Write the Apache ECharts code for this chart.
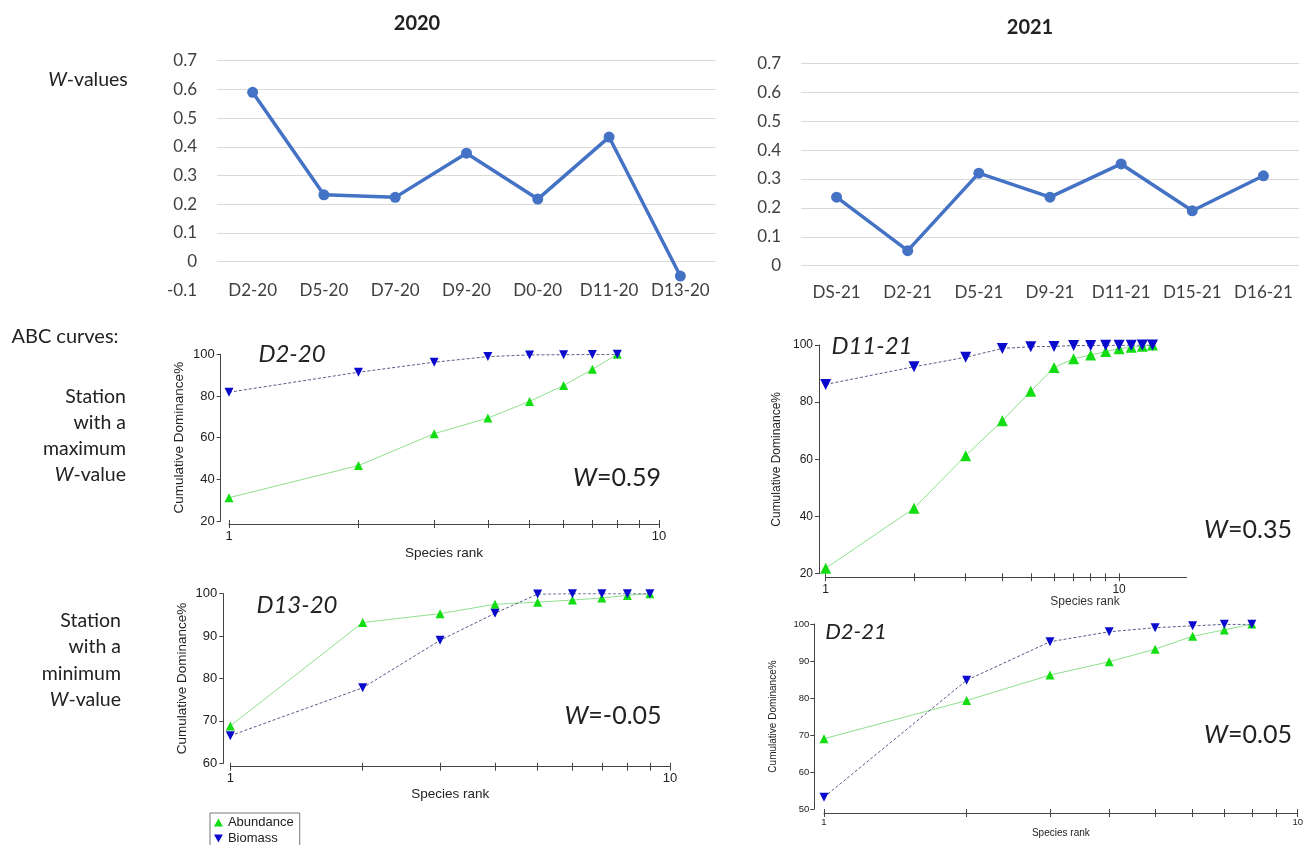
<!DOCTYPE html>
<html><head><meta charset="utf-8">
<script src="https://cdn.jsdelivr.net/npm/echarts@6/dist/echarts.min.js"></script>
<style>html,body{margin:0;padding:0;background:#fff}#c{width:1306px;height:845px}</style>
</head><body><div id="c"></div>
<script>
// ---- data ----
const cats2020 = ['D2-20','D5-20','D7-20','D9-20','D0-20','D11-20','D13-20'];
const w2020 = [0.59, 0.233, 0.224, 0.378, 0.218, 0.434, -0.05];
const cats2021 = ['DS-21','D2-21','D5-21','D9-21','D11-21','D15-21','D16-21'];
const w2021 = [0.237, 0.052, 0.32, 0.237, 0.352, 0.19, 0.311];

const rankTicks = [1,2,3,4,5,6,7,8,9,10];
const rankLabels = [1,10];

const abD2_20  = [31.2, 46.6, 61.9, 69.4, 77.4, 85.0, 92.8, 100];
const bioD2_20 = [81.8, 91.4, 96.2, 98.9, 99.7, 99.8, 99.9, 100];
const abD13_20  = [68.8, 93.2, 95.3, 97.5, 98.0, 98.5, 99.0, 99.6, 100];
const bioD13_20 = [66.5, 77.8, 89.0, 95.4, 99.9, 100, 100, 100, 100];
const abD11_21  = [21.9, 42.9, 61.3, 73.5, 83.8, 92.1, 95.2, 96.5, 97.7, 98.7, 99.2, 99.6, 100];
const bioD11_21 = [86.2, 92.4, 95.7, 98.8, 99.4, 99.5, 99.8, 99.8, 99.9, 99.9, 99.9, 100, 100];
const abD2_21  = [69.0, 79.3, 86.2, 89.8, 93.2, 96.7, 98.4, 100];
const bioD2_21 = [53.2, 84.8, 95.2, 97.9, 99.0, 99.5, 99.9, 99.9];

// ---- styles ----
const FC = 'Lato, "Open Sans", sans-serif';
const FA = '"Liberation Sans", Arial, sans-serif';
const TXT = '#222';
const BLUE = '#4472C4';

function label(text, x, y, size, opts) {
  opts = opts || {};
  const base = {fontFamily: FC, fontSize: size, color: opts.color || TXT, fontWeight: opts.bold ? 'bold' : 'normal',
    fontStyle: opts.italic ? 'italic' : 'normal', lineHeight: opts.lh || Math.round(size*1.25)};
  return {text: text, left: x, top: y, padding: 0, itemGap: 0,
    textAlign: opts.align || 'center', textVerticalAlign: 'middle',
    textStyle: Object.assign({}, base, {rich: {
      i: Object.assign({}, base, {fontStyle: 'italic'}),
      n: Object.assign({}, base)
    }})};
}

const titles = [
  label('2020', 417, 24, 20, {bold: true}),
  label('2021', 1030, 28, 20, {bold: true}),
  label('{i|W}-values', 88, 80, 19.5),
  label('ABC curves:', 65, 337, 20),
  label('Station\nwith a\nmaximum\n{i|W}-value', 126, 436, 19.5, {align: 'right', lh: 26}),
  label('Station\nwith a\nminimum\n{i|W}-value', 121, 660, 19.5, {align: 'right', lh: 26.5}),
  label('D2-20', 292, 354, 24, {italic: true}),
  label('{i|W}=0.59', 617, 478, 25),
  label('D13-20', 297, 605, 24, {italic: true}),
  label('{i|W}=-0.05', 613, 716, 25),
  label('D11-21', 872, 346, 24, {italic: true}),
  label('{i|W}=0.35', 1248, 530, 25),
  label('D2-21', 856, 632, 22, {italic: true}),
  label('{i|W}=0.05', 1248, 735, 25),
  {text: 'Species rank', left: 1085, top: 602, padding: 0, textAlign: 'center', textVerticalAlign: 'middle',
   textStyle: {fontFamily: FA, fontSize: 12, color: '#333', fontWeight: 'normal'}}
];

const grids = [];
const xAxes = [];
const yAxes = [];
const series = [];

// ---- W-value charts ----
function wChart(cats, vals, g, ymin, labelMargin, hideFirstGrid) {
  const gi = grids.length;
  grids.push(g);
  xAxes.push({type: 'category', gridIndex: gi, position: 'bottom', data: cats, boundaryGap: true,
    axisLine: {show: false}, axisTick: {show: false}, splitLine: {show: false},
    axisLabel: {fontFamily: FC, fontSize: 17, color: '#404040', margin: labelMargin, verticalAlign: 'middle', interval: 0}});
  const n = Math.round((0.7 - ymin) / 0.1) + 1;
  const cols = [];
  for (let k = 0; k < n; k++) cols.push(k === 0 && hideFirstGrid ? 'rgba(0,0,0,0)' : '#d9d9d9');
  yAxes.push({type: 'value', gridIndex: gi, min: ymin, max: 0.7, interval: 0.1,
    axisLine: {show: false}, axisTick: {show: false},
    splitLine: {show: true, lineStyle: {color: cols, width: 1}},
    axisLabel: {fontFamily: FC, fontSize: 17, color: '#404040', margin: 20}});
  series.push({type: 'line', xAxisIndex: gi, yAxisIndex: gi, data: vals,
    symbol: 'circle', symbolSize: 11, lineStyle: {color: BLUE, width: 3.5},
    itemStyle: {color: BLUE}, silent: true, animation: false});
}
wChart(cats2020, w2020, {left: 217, top: 60.7, width: 499, height: 229.7}, -0.1, 0, true);
wChart(cats2021, w2021, {left: 801, top: 63.3, width: 498, height: 202.4}, 0, 27, false);

// ---- ABC charts ----
const abcIdx = [];
function abcChart(c) {
  const gi = grids.length;
  grids.push(c.grid);
  const axCol = '#444';
  xAxes.push({type: 'log', logBase: 10, gridIndex: gi, position: 'bottom', min: 1, max: c.xmax, offset: c.xoff,
    axisLine: {show: true, lineStyle: {color: axCol, width: 1}},
    axisTick: {show: true, length: 4, customValues: rankTicks, lineStyle: {color: axCol}},
    axisLabel: {show: true, customValues: rankLabels, fontFamily: FA, fontSize: c.fs, color: '#222', margin: c.xlm},
    splitLine: {show: false}, minorTick: {show: false},
    name: c.xname ? 'Species rank' : '', nameLocation: 'middle', nameGap: c.xng,
    nameTextStyle: {fontFamily: FA, fontSize: c.nfs, color: '#222', verticalAlign: 'top'}});
  yAxes.push({type: 'value', gridIndex: gi, position: 'left', min: c.ymin, max: 100, interval: c.yint, offset: c.yoff,
    axisLine: {show: true, lineStyle: {color: axCol, width: 1}},
    axisTick: {show: true, length: 4, lineStyle: {color: axCol}},
    axisLabel: {fontFamily: FA, fontSize: c.fs, color: '#222', margin: c.ylm},
    splitLine: {show: false},
    name: 'Cumulative Dominance%', nameLocation: 'middle', nameGap: c.yng,
    nameTextStyle: {fontFamily: FA, fontSize: c.nfs, color: '#222'}});
  abcIdx.push({gi: gi, c: c});
  const ranks = c.ab.map((v, i) => i + 1);
  series.push({name: 'Abundance', type: 'line', xAxisIndex: gi, yAxisIndex: gi,
    data: c.ab.map((v, i) => [ranks[i], v]), symbol: 'triangle', symbolSize: c.ss,
    lineStyle: {color: '#8ee08e', width: 1}, itemStyle: {color: '#11dd11'}, silent: true, animation: false});
  series.push({name: 'Biomass', type: 'line', xAxisIndex: gi, yAxisIndex: gi,
    data: c.bio.map((v, i) => [ranks[i], v]), symbol: 'triangle', symbolRotate: 180, symbolSize: c.ss,
    lineStyle: {color: '#5a5a8c', width: 1, type: [3, 2]}, itemStyle: {color: '#0a0acc'}, silent: true, animation: false});
}
abcChart({grid: {left: 229, top: 354.3, width: 430, height: 166.7}, xmax: 10, xoff: 3, yoff: 8.3,
  ymin: 20, yint: 20, fs: 13, nfs: 13.5, xlm: 6, ylm: 6, xng: 22, yng: 34, xname: true, ss: 9,
  ab: abD2_20, bio: bioD2_20});
abcChart({grid: {left: 230.3, top: 593.7, width: 439.7, height: 169.6}, xmax: 10, xoff: 3.4, yoff: 7,
  ymin: 60, yint: 10, fs: 13, nfs: 13.5, xlm: 5, ylm: 6, xng: 21, yng: 34, xname: true, ss: 9,
  ab: abD13_20, bio: bioD13_20});
abcChart({grid: {left: 825.7, top: 345, width: 361, height: 228.7}, xmax: 17, xoff: 3.6, yoff: 6.7,
  ymin: 20, yint: 20, fs: 12, nfs: 12, xlm: 6, ylm: 6, xng: 20, yng: 36, xname: false, ss: 11,
  ab: abD11_21, bio: bioD11_21});
abcChart({grid: {left: 824, top: 624, width: 478, height: 185}, xmax: 10, xoff: 4, yoff: 9.7,
  ymin: 50, yint: 10, fs: 9.5, nfs: 10, xlm: 4, ylm: 5, xng: 14, yng: 36, xname: true, ss: 9,
  ab: abD2_21, bio: bioD2_21});

// overlay axes (same place, bottom): inside ticks so that rank ticks cross the axis line
abcIdx.forEach(o => {
  xAxes.push({type: 'log', logBase: 10, gridIndex: o.gi, position: 'bottom', min: 1, max: o.c.xmax, offset: o.c.xoff,
    axisLine: {show: false}, axisLabel: {show: false}, splitLine: {show: false},
    axisTick: {show: true, inside: true, length: 4, customValues: rankTicks, lineStyle: {color: '#444'}}});
});

const option = {
  animation: false,
  backgroundColor: '#fff',
  title: titles,
  grid: grids,
  xAxis: xAxes,
  yAxis: yAxes,
  legend: {show: true, orient: 'vertical', left: 210, top: 813, height: 60, padding: [2, 6, 3, 4], itemGap: 1,
    itemWidth: 9, itemHeight: 8, borderColor: '#777', borderWidth: 1, borderRadius: 0,
    selectedMode: false,
    textStyle: {fontFamily: FA, fontSize: 13, color: '#222', lineHeight: 15},
    data: [{name: 'Abundance', icon: 'path://M5,0 L10,9 L0,9 Z'},
           {name: 'Biomass', icon: 'path://M0,0 L10,0 L5,9 Z'}]},
  series: series
};
const chart = echarts.init(document.getElementById('c'), null, {renderer: 'canvas'});
chart.setOption(option);
</script>
</body></html>
